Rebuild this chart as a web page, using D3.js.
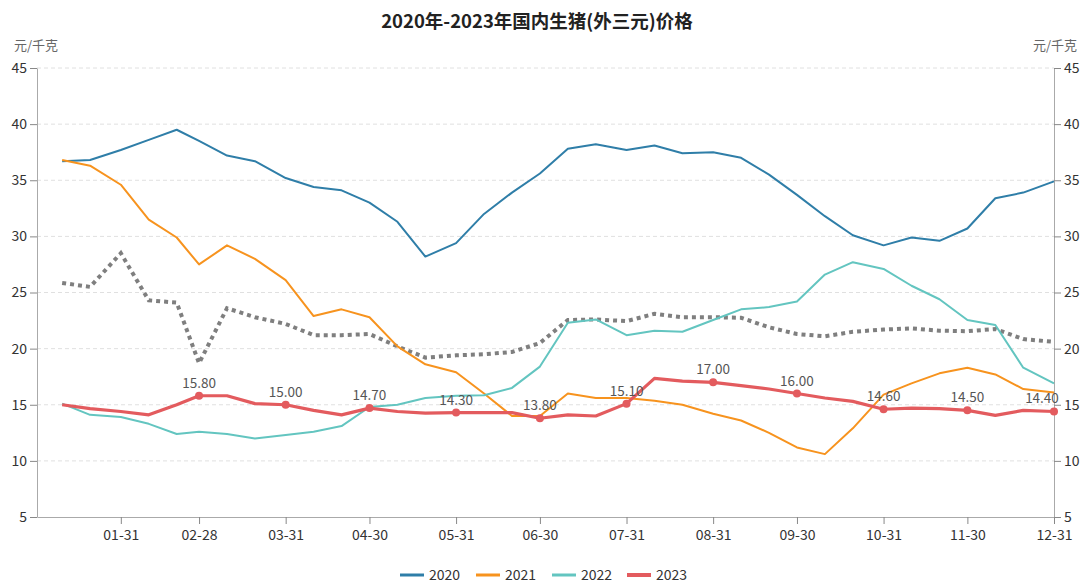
<!DOCTYPE html>
<html>
<head>
<meta charset="utf-8">
<script src="https://cdn.jsdelivr.net/npm/d3@7"></script>
<style>
  body { margin: 0; background: #fff; }
  svg { display: block; font-family: "Noto Sans CJK SC", "Noto Sans", sans-serif; }
</style>
</head>
<body>
<svg id="chart" width="1081" height="583"></svg>
<script>
// dekadal observation dates (month-day), same for every year
var dates = ["01-10","01-20","01-31","02-10","02-20","02-28","03-10","03-20","03-31",
    "04-10","04-20","04-30","05-10","05-20","05-31","06-10","06-20","06-30",
    "07-10","07-20","07-31","08-10","08-20","08-31","09-10","09-20","09-30",
    "10-10","10-20","10-31","11-10","11-20","11-30","12-10","12-20","12-31"];

var tickDates = ["01-31","02-28","03-31","04-30","05-31","06-30","07-31","08-31","09-30","10-31","11-30","12-31"];
var yTicks = [5, 10, 15, 20, 25, 30, 35, 40, 45];

var v2020 = [36.7,36.8,37.7,38.6,39.5,38.5,37.2,36.7,35.2,34.4,34.1,33.0,
    31.3,28.2,29.4,32.0,33.9,35.6,37.8,38.2,37.7,38.1,37.4,37.5,
    37.0,35.5,33.7,31.8,30.1,29.2,29.9,29.6,30.7,33.4,33.9,34.9];
var v2021 = [36.8,36.3,34.6,31.5,29.9,27.5,29.2,28.0,26.1,22.9,23.5,22.8,
    20.2,18.6,17.9,16.0,14.0,14.0,16.0,15.6,15.6,15.35,15.0,14.2,
    13.6,12.5,11.2,10.6,12.9,15.9,16.9,17.8,18.3,17.7,16.4,16.1];
var v2022 = [15.1,14.1,13.9,13.3,12.4,12.6,12.4,12.0,12.3,12.6,13.1,14.8,
    15.0,15.6,15.8,15.85,16.5,18.4,22.3,22.6,21.2,21.6,21.5,22.55,
    23.5,23.7,24.2,26.6,27.7,27.1,25.6,24.4,22.55,22.1,18.3,16.9];
var v2023 = [15.0,14.65,14.4,14.1,15.0,15.8,15.8,15.1,15.0,14.5,14.1,14.7,
    14.4,14.25,14.3,14.3,14.3,13.8,14.1,14.0,15.1,17.35,17.1,17.0,
    16.7,16.4,16.0,15.6,15.3,14.6,14.7,14.65,14.5,14.05,14.5,14.4];
var vAvg = [25.85,25.5,28.5,24.3,24.1,18.7,23.6,22.8,22.2,21.2,21.2,21.3,
    20.2,19.2,19.4,19.5,19.7,20.5,22.55,22.6,22.45,23.1,22.8,22.8,
    22.75,21.9,21.3,21.1,21.5,21.7,21.8,21.6,21.55,21.75,20.85,20.6];

var labelIdx = [5, 8, 11, 14, 17, 20, 23, 26, 29, 32, 35];

var series = [
    { name: "2020", values: v2020, color: "#2f7ea8", width: 2 },
    { name: "2021", values: v2021, color: "#f7931e", width: 2 },
    { name: "2022", values: v2022, color: "#63c5c0", width: 2 },
    { name: "2023", values: v2023, color: "#e35b5e", width: 3.2 }
];

var svg = d3.select("#chart");
var margin = { left: 37, right: 1054, top: 68, bottom: 517 };

var parse = function(md) { return d3.timeParse("%Y-%m-%d")("2023-" + md); };
var x = d3.scaleTime()
    .domain([parse("01-01"), parse("12-31")])
    .range([margin.left, margin.right]);
var y = d3.scaleLinear().domain([5, 45]).range([margin.bottom, margin.top]);

// title
svg.append("text")
    .attr("x", 537).attr("y", 28)
    .attr("text-anchor", "middle")
    .attr("font-size", 18.5).attr("font-weight", "bold").attr("fill", "#222")
    .text("2020年-2023年国内生猪(外三元)价格");

// unit labels
svg.append("text").attr("x", 14).attr("y", 50)
    .attr("font-size", 13).attr("fill", "#666").text("元/千克");
svg.append("text").attr("x", 1077).attr("y", 50).attr("text-anchor", "end")
    .attr("font-size", 13).attr("fill", "#666").text("元/千克");

// grid
svg.append("g").selectAll("line")
    .data(yTicks.filter(function(d) { return d !== 5; }))
    .join("line")
    .attr("x1", margin.left).attr("x2", margin.right)
    .attr("y1", function(d) { return y(d); }).attr("y2", function(d) { return y(d); })
    .attr("stroke", "#e0e0e0").attr("stroke-dasharray", "4,3");

// axes
var yLeft = d3.axisLeft(y).tickValues(yTicks).tickSize(7).tickPadding(3).tickSizeOuter(0);
var yRight = d3.axisRight(y).tickValues(yTicks).tickSize(7).tickPadding(3).tickSizeOuter(0);
var xAxis = d3.axisBottom(x).tickValues(tickDates.map(parse))
    .tickFormat(d3.timeFormat("%m-%d")).tickSize(7).tickPadding(6).tickSizeOuter(0);

function styleAxis(g) {
    g.select(".domain").attr("stroke", "#aaa");
    g.selectAll(".tick line").attr("stroke", "#888");
    g.selectAll(".tick text").attr("fill", "#333").attr("font-size", 14)
        .attr("font-family", "\"Noto Sans CJK SC\", sans-serif");
}
svg.append("g").attr("transform", "translate(" + margin.left + ",0)").call(yLeft).call(styleAxis);
svg.append("g").attr("transform", "translate(" + margin.right + ",0)").call(yRight).call(styleAxis);
svg.append("g").attr("transform", "translate(0," + margin.bottom + ")").call(xAxis).call(styleAxis);

var line = d3.line()
    .x(function(d, i) { return x(parse(dates[i])); })
    .y(function(d) { return y(d); });

// average dotted line
svg.append("path").datum(vAvg)
    .attr("d", line).attr("fill", "none")
    .attr("stroke", "#7f7f7f").attr("stroke-width", 4)
    .attr("stroke-dasharray", "4,4");

series.forEach(function(s) {
    svg.append("path").datum(s.values)
        .attr("d", line).attr("fill", "none")
        .attr("stroke", s.color).attr("stroke-width", s.width)
        .attr("stroke-linejoin", "round");
});

// 2023 markers and labels
var s23 = series[3];
var g23 = svg.append("g");
g23.selectAll("circle").data(labelIdx).join("circle")
    .attr("cx", function(i) { return x(parse(dates[i])); })
    .attr("cy", function(i) { return y(v2023[i]); })
    .attr("r", 4).attr("fill", s23.color);
g23.selectAll("text").data(labelIdx).join("text")
    .attr("x", function(i) { return x(parse(dates[i])) - (i === 35 ? 12 : 0); })
    .attr("y", function(i) { return y(v2023[i]) - 8; })
    .attr("text-anchor", "middle").attr("font-size", 13.5).attr("fill", "#555")
    .text(function(i) { return v2023[i].toFixed(2); });

// legend
var legendX = [400, 476, 552, 627];
var lg = svg.append("g");
series.forEach(function(s, k) {
    lg.append("line")
        .attr("x1", legendX[k]).attr("x2", legendX[k] + 24)
        .attr("y1", 575).attr("y2", 575)
        .attr("stroke", s.color).attr("stroke-width", k === 3 ? 4 : 3);
    lg.append("text")
        .attr("x", legendX[k] + 29).attr("y", 580)
        .attr("font-size", 14).attr("fill", "#333")
        .text(s.name);
});
</script>
</body>
</html>
